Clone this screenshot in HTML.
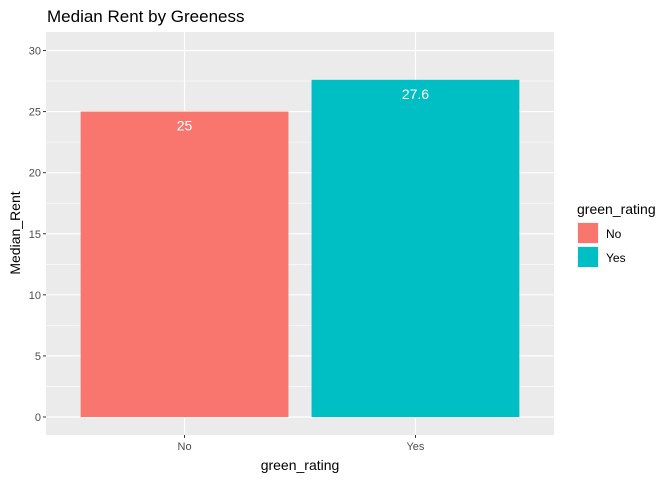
<!DOCTYPE html>
<html><head><meta charset="utf-8"><style>
body{margin:0;background:#fff;font-family:"Liberation Sans",sans-serif}
</style></head><body>
<svg width="672" height="480" xmlns="http://www.w3.org/2000/svg">
<text x="47" y="22" font-size="17" fill="#000">Median Rent by Greeness</text>
<rect x="46" y="32" width="508" height="403" fill="#EBEBEB"/>
<g id="grid"></g>
<g id="bars"></g>
<g id="axes"></g>
<text x="300" y="470" font-size="14" text-anchor="middle" fill="#000">green_rating</text>
<text transform="translate(20,233) rotate(-90)" font-size="14" text-anchor="middle" fill="#000">Median_Rent</text>
<g>
<text x="577" y="214" font-size="14" fill="#000">green_rating</text>
<rect x="577" y="222" width="22" height="22" fill="#F2F2F2"/>
<rect x="578" y="223" width="20" height="20" fill="#F8766D"/>
<text x="606" y="238" font-size="12" fill="#000">No</text>
<rect x="577" y="246" width="22" height="22" fill="#F2F2F2"/>
<rect x="578" y="247" width="20" height="20" fill="#00BFC4"/>
<text x="606" y="262" font-size="12" fill="#000">Yes</text>
</g>
</svg>
<script>
const categories = ["No","Yes"];
const values = [25, 27.6];
const labels = ["25","27.6"];
const yTicks = [0,5,10,15,20,25,30];
const colors = ["#F8766D","#00BFC4"];
const NS="http://www.w3.org/2000/svg";
const L=46,R=554,T=32,B=435;
const y0=417, pxPer=(417-50.5)/30;
function ys(v){return y0-v*pxPer;}
const unit=(R-L)/(categories.length-1+1.2);
function xs(i){return L+0.6*unit+i*unit;}
function mk(tag,a,p){const e=document.createElementNS(NS,tag);for(const k in a)e.setAttribute(k,a[k]);p.appendChild(e);return e;}
const grid=document.getElementById('grid'),bars=document.getElementById('bars'),axes=document.getElementById('axes');
for(let i=0;i<yTicks.length-1;i++){const m=(yTicks[i]+yTicks[i+1])/2;
const l=mk('line',{x1:L,x2:R,y1:ys(m),y2:ys(m),stroke:'#fff','stroke-width':0.6},grid);

}
yTicks.forEach(t=>{const l=mk('line',{x1:L,x2:R,y1:ys(t),y2:ys(t),stroke:'#fff','stroke-width':1.2},grid);


const tk=mk('line',{x1:L-3,x2:L,y1:ys(t),y2:ys(t),stroke:'#333','stroke-width':1},axes);


const tx=mk('text',{x:L-5,y:ys(t)+4,'font-size':11,'text-anchor':'end',fill:'#4D4D4D'},axes);tx.textContent=t;

});
categories.forEach((c,i)=>{const x=xs(i);
const g=mk('line',{x1:x,x2:x,y1:T,y2:B,stroke:'#fff','stroke-width':1.2},grid);


const w=0.9*unit;
const b=mk('rect',{x:x-w/2,y:ys(values[i]),width:w,height:ys(0)-ys(values[i]),fill:colors[i]},bars);


const lb=mk('text',{x:x,y:ys(values[i])+19,'font-size':14,'text-anchor':'middle',fill:'#fff'},bars);lb.textContent=labels[i];


const tk=mk('line',{x1:x,x2:x,y1:B,y2:B+3,stroke:'#333','stroke-width':1},axes);


const tx=mk('text',{x:x,y:B+15,'font-size':11,'text-anchor':'middle',fill:'#4D4D4D'},axes);tx.textContent=c;

});
</script>
</body></html>
